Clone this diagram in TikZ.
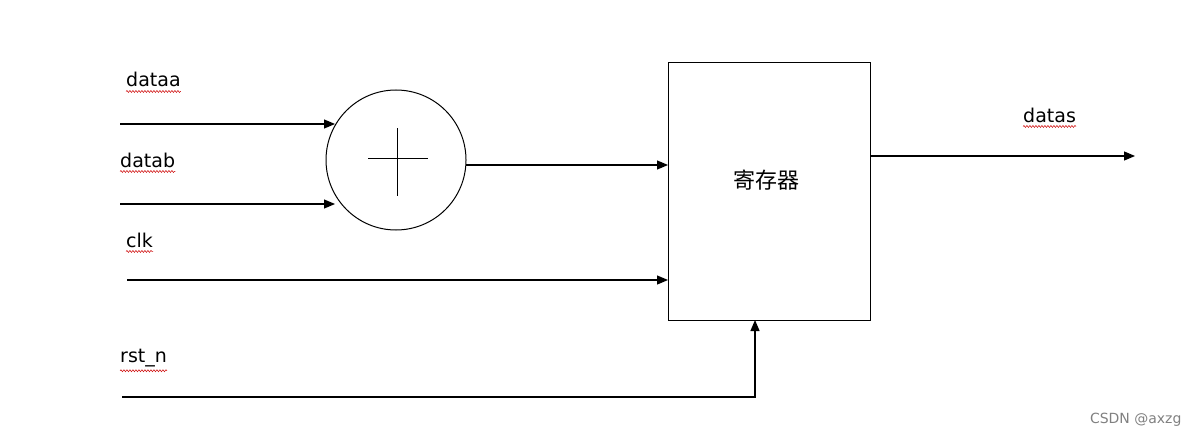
\documentclass[tikz,border=0pt]{standalone}
\usepackage{fontspec}
\setmainfont{DejaVu Sans}
\newfontfamily\cjk{Noto Sans CJK SC}
\usetikzlibrary{arrows.meta,decorations.pathmorphing}
\begin{document}
\begin{tikzpicture}[x=1pt,y=-1pt,
  wire/.style={line width=1.2pt,-{Triangle[length=11pt,width=9pt]}},
  lbl/.style={anchor=base west,inner sep=0pt,font=\fontsize{19}{19}\selectfont},
  squig/.style={red!80!black,line width=0.5pt,decorate,decoration={snake,amplitude=1pt,segment length=3pt}}]
\useasboundingbox (0,0) rectangle (1190,441);
\node[circle,draw,line width=1pt,minimum size=140pt,inner sep=0pt] (add) at (396,160) {};
\draw[line width=1pt] (368,158) -- (428,158) (397,128) -- (397,196);
\node[draw,line width=1pt,minimum width=202pt,minimum height=257pt,inner sep=0pt] (reg) at (769,191.5) {};
\node[font=\cjk\fontsize{22}{22}\selectfont] (regtxt) at (766,180) {寄存器};
\coordinate (a0) at (120,124); \coordinate (a1) at (335,124);
\coordinate (b0) at (120,204); \coordinate (b1) at (335,204);
\coordinate (c0) at (127,280); \coordinate (c1) at (668,280);
\coordinate (r0) at (122,397); \coordinate (r1) at (755,397); \coordinate (r2) at (755,320);
\coordinate (o0) at (466,165); \coordinate (o1) at (668,165);
\coordinate (d0) at (870,156); \coordinate (d1) at (1135,156);
\draw[wire] (a0) -- (a1);
\draw[wire] (b0) -- (b1);
\draw[wire] (c0) -- (c1);
\draw[wire] (o0) -- (o1);
\draw[wire] (d0) -- (d1);
\draw[wire] (r0) -- (r1) -- (r2);
\node[lbl] (la) at (126,87) {dataa};
\node[lbl] (lb) at (120,167) {datab};
\node[lbl] (lc) at (126,247) {clk};
\node[lbl] (lr) at (120,362) {rst\_n};
\node[lbl] (ld) at (1023,122) {datas};
\foreach \n in {la,lb,lc,lr,ld} \draw[squig] ([yshift=-4pt]\n.south west) -- ([yshift=-4pt]\n.south east);
\node[anchor=east,text=gray,font=\fontsize{14}{14}\selectfont] (wm) at (1185,420) {CSDN @axzg};
\end{tikzpicture}
\end{document}
